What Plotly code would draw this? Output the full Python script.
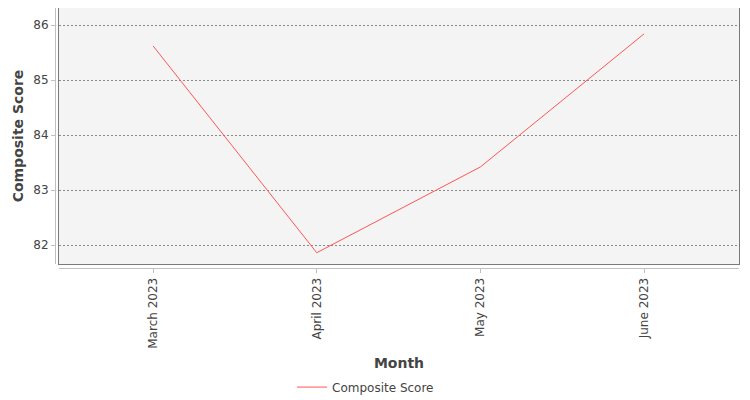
import plotly.graph_objects as go

months = ["March 2023", "April 2023", "May 2023", "June 2023"]
composite_score = [85.62, 81.86, 83.42, 85.84]
y_ticks = [82, 83, 84, 85, 86]

font_family = "DejaVu Sans"
x_range = [-0.575, 3.58]
y_range = [81.655, 86.31]

# the page body adds an 8px margin, so the figure is a bit smaller than the window
fig_w, fig_h = 742, 392
l, r, t, b = 47, 11, 0, 132
plot_w = fig_w - l - r
plot_h = fig_h - t - b
# plot box (data area) sits 4px inside the grey axis lines, like the original
x_dom = [4 / plot_w, 1]
y_dom = [4 / plot_h, 1]

fig = go.Figure()
fig.add_trace(go.Scatter(x=list(range(len(months))), y=composite_score,
                         mode='lines', name='Composite Score',
                         line=dict(color='#ff5555', width=1),
                         xaxis='x', yaxis='y'))
# same data on the offset axes so they get drawn
fig.add_trace(go.Scatter(x=list(range(len(months))), y=composite_score,
                         mode='lines', showlegend=False, hoverinfo='skip',
                         line=dict(color='rgba(0,0,0,0)', width=1),
                         xaxis='x2', yaxis='y2'))

fig.update_layout(
    width=fig_w, height=fig_h,
    margin=dict(l=l, r=r, t=t, b=b, autoexpand=False),
    paper_bgcolor='white',
    plot_bgcolor='#f4f4f4',
    font=dict(family=font_family, size=12, color='#444444'),
    showlegend=True,
    legend=dict(orientation='h', x=0.454, xanchor='center',
                y=-0.458, yanchor='middle',
                font=dict(size=12, color='#444444')),
    xaxis=dict(domain=x_dom, anchor='y', range=x_range, automargin=False,
               showline=True, mirror=True, linecolor='#7a7a7a', linewidth=1,
               showgrid=False, zeroline=False, showticklabels=False, ticks=''),
    yaxis=dict(domain=y_dom, anchor='x', range=y_range, automargin=False,
               tickvals=y_ticks,
               showline=True, mirror=True, linecolor='#7a7a7a', linewidth=1,
               showgrid=True, gridcolor='#8a8a8a', gridwidth=1, griddash='2px,2px',
               zeroline=False, showticklabels=False, ticks=''),
    xaxis2=dict(domain=x_dom, overlaying='x', anchor='free', position=0,
                automargin=False,
                range=x_range, tickvals=list(range(len(months))), ticktext=months,
                tickangle=-90, ticks='outside', ticklen=4, tickcolor='#c0c0c0',
                showline=True, linecolor='#c0c0c0', linewidth=1,
                showgrid=False, zeroline=False,
                tickfont=dict(size=12, color='#444444'),
                title=dict(text='<b>Month</b>', standoff=10,
                           font=dict(size=14, color='#444444'))),
    yaxis2=dict(domain=y_dom, overlaying='y', anchor='free', position=0,
                automargin=False,
                side='left', range=y_range, tickvals=y_ticks,
                ticks='outside', ticklen=4, tickcolor='#c0c0c0',
                showline=True, linecolor='#c0c0c0', linewidth=1,
                showgrid=False, zeroline=False,
                tickfont=dict(size=12, color='#444444'),
                title=dict(text='<b>Composite Score</b>', standoff=5,
                           font=dict(size=14, color='#444444'))),
)

fig.write_html("out.html")
